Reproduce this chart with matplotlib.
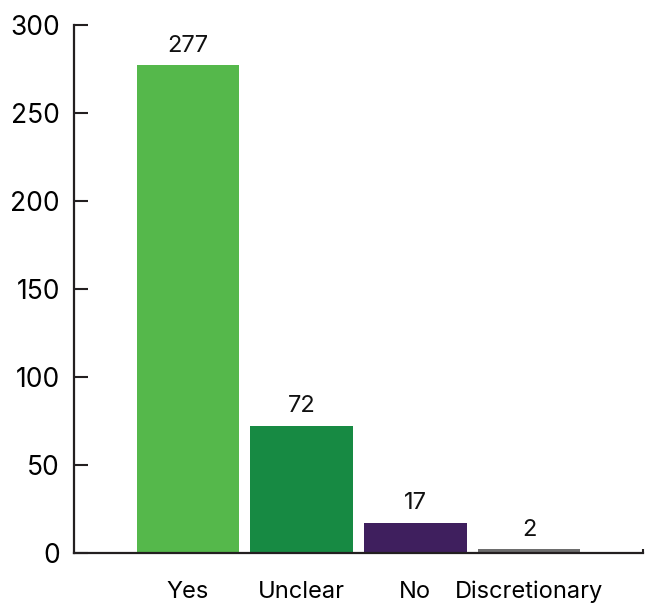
import matplotlib.pyplot as plt

plt.rcParams['font.family'] = ['Inter', 'DejaVu Sans']

categories = ['Yes', 'Unclear', 'No', 'Discretionary']
counts = [277, 72, 17, 2]
colors = ['#55b84b', '#178a43', '#3f1f5e', '#6d6d6d']
yticks = [0, 50, 100, 150, 200, 250, 300]

fig = plt.figure(figsize=(6.53, 6.05), dpi=100)
ax = fig.add_axes([74 / 653, 52 / 605, (643 - 74) / 653, (553 - 25) / 605])

x = range(len(categories))
bars = ax.bar(x, counts, width=0.9, color=colors, zorder=1)

for xi, v in zip(x, counts):
    ax.text(xi, v + 5, str(v), ha='center', va='bottom', fontsize=17, color='#111111')

ax.set_xlim(-1.0, 4.0)
ax.set_ylim(0, 300)
ax.set_yticks(yticks)
ax.set_xticks(list(x))
ax.set_xticklabels(categories, fontsize=17)

ax.tick_params(axis='y', direction='in', length=10, width=1.5, color='#231f20',
               labelsize=19, pad=10)
ax.tick_params(axis='x', length=0, pad=20)

# small end mark on the right of the baseline
ax.set_xticks([4.0], minor=True)
ax.tick_params(axis='x', which='minor', direction='in', length=3, width=1.5, color='#231f20')

for side in ['top', 'right']:
    ax.spines[side].set_visible(False)
for side in ['left', 'bottom']:
    ax.spines[side].set_linewidth(1.6)
    ax.spines[side].set_color('#231f20')
    ax.spines[side].set_zorder(2)

fig.savefig('out.png', dpi=100)
